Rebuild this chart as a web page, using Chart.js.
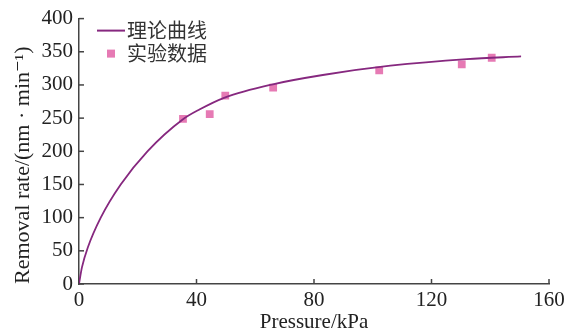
<!DOCTYPE html>
<html>
<head>
<meta charset="utf-8">
<script src="https://cdn.jsdelivr.net/npm/chart.js@4.4.1/dist/chart.umd.min.js"></script>
<style>
  html, body { margin: 0; padding: 0; background: #fff; }
  #wrap { width: 574px; height: 336px; }
</style>
</head>
<body>
<div id="wrap"><canvas id="dataChart"></canvas></div>
<script>
// theory curve
var curvePressure = [0, 1, 3, 7.4, 14.2, 23.3, 35.3, 41, 49.6, 66, 83, 106, 132, 150.5];
var curveRate = [0, 25, 55, 100, 150, 200, 248, 263, 281, 301, 315, 329, 339, 343];

// measured points
var expPressure = [35.4, 44.5, 49.8, 66.1, 102.2, 130.3, 140.5];
var expRate = [249, 256, 284, 296, 322, 331, 341];

var xTicks = [0, 40, 80, 120, 160];
var yTicks = [0, 50, 100, 150, 200, 250, 300, 350, 400];

var legendLabels = ['理论曲线', '实验数据'];
var xTitle = 'Pressure/kPa';
var yTitle = 'Removal rate/(nm · min⁻¹)';

var lineColor = '#86287f';
var dotColor = '#e67ab4';
var axisColor = '#444';
var serif = '"Liberation Serif", "DejaVu Serif", serif';

function toPoints(xs, ys) {
  var pts = [];
  for (var i = 0; i < xs.length; i++) pts.push({ x: xs[i], y: ys[i] });
  return pts;
}

// tick marks pointing into the plot + the little legend in the corner
var extras = {
  id: 'extras',
  afterDraw: function(chart) {
    var ctx = chart.ctx;
    var area = chart.chartArea;
    var xs = chart.scales.x, ys = chart.scales.y;
    ctx.save();
    ctx.strokeStyle = axisColor;
    ctx.lineWidth = 1.5;
    yTicks.forEach(function(v) {
      var py = ys.getPixelForValue(v);
      ctx.beginPath();
      ctx.moveTo(area.left, py);
      ctx.lineTo(area.left + 5, py);
      ctx.stroke();
    });
    xTicks.forEach(function(v) {
      if (v === 0) return;
      var px = xs.getPixelForValue(v);
      ctx.beginPath();
      ctx.moveTo(px, area.bottom);
      ctx.lineTo(px, area.bottom - 5);
      ctx.stroke();
    });

    // legend
    var lx = area.left + 18, ly = area.top + 12;
    ctx.strokeStyle = lineColor;
    ctx.lineWidth = 2;
    ctx.beginPath();
    ctx.moveTo(lx, ly);
    ctx.lineTo(lx + 28, ly);
    ctx.stroke();
    ctx.fillStyle = dotColor;
    ctx.fillRect(lx + 10, ly + 19, 8, 8);
    ctx.fillStyle = '#333';
    ctx.font = '20px "Noto Sans CJK SC"';
    ctx.textBaseline = 'middle';
    ctx.textAlign = 'left';
    ctx.fillText(chart.data.datasets[0].label, lx + 30, ly);
    ctx.fillText(chart.data.datasets[1].label, lx + 30, ly + 23);
    ctx.restore();
  }
};

var ctx = document.getElementById('dataChart');
var myChart = new Chart(ctx, {
  type: 'scatter',
  data: {
    datasets: [{
        label: legendLabels[0],
        data: toPoints(curvePressure, curveRate),
        showLine: true,
        borderColor: lineColor,
        backgroundColor: lineColor,
        borderWidth: 1.8,
        pointRadius: 0,
        cubicInterpolationMode: 'monotone',
        fill: false
      },
      {
        label: legendLabels[1],
        data: toPoints(expPressure, expRate),
        showLine: false,
        pointStyle: 'rect',
        pointRadius: 5.5,
        borderWidth: 0,
        backgroundColor: dotColor,
        borderColor: dotColor
    }]
  },
  options: {
    responsive: true,
    maintainAspectRatio: false,
    animation: false,
    layout: { padding: { left: 0, right: 25, top: 17, bottom: 0 } },
    plugins: {
      legend: { display: false },
      tooltip: { enabled: false }
    },
    scales: {
      x: {
        type: 'linear',
        min: 0,
        max: 160,
        afterBuildTicks: function(scale) {
          scale.ticks = xTicks.map(function(v) { return { value: v }; });
        },
        afterFit: function(scale) { scale.height = 52; },
        grid: { display: false, drawTicks: false },
        border: { display: true, color: axisColor, width: 1.5 },
        ticks: { color: '#222', padding: 4, font: { family: serif, size: 21 } },
        title: {
          display: true,
          text: xTitle,
          color: '#222',
          padding: { top: 0, bottom: 1 },
          font: { family: serif, size: 21 }
        }
      },
      y: {
        type: 'linear',
        min: 0,
        max: 400,
        afterBuildTicks: function(scale) {
          scale.ticks = yTicks.map(function(v) { return { value: v }; });
        },
        afterFit: function(scale) { scale.width = 79; },
        grid: { display: false, drawTicks: false },
        border: { display: true, color: axisColor, width: 1.5 },
        ticks: { color: '#222', padding: 6, font: { family: serif, size: 21 } },
        title: {
          display: true,
          text: yTitle,
          color: '#222',
          align: 'start',
          padding: { top: 10, bottom: 0 },
          font: { family: serif, size: 22 }
        }
      }
    }
  },
  plugins: [extras]
});
</script>
</body>
</html>
